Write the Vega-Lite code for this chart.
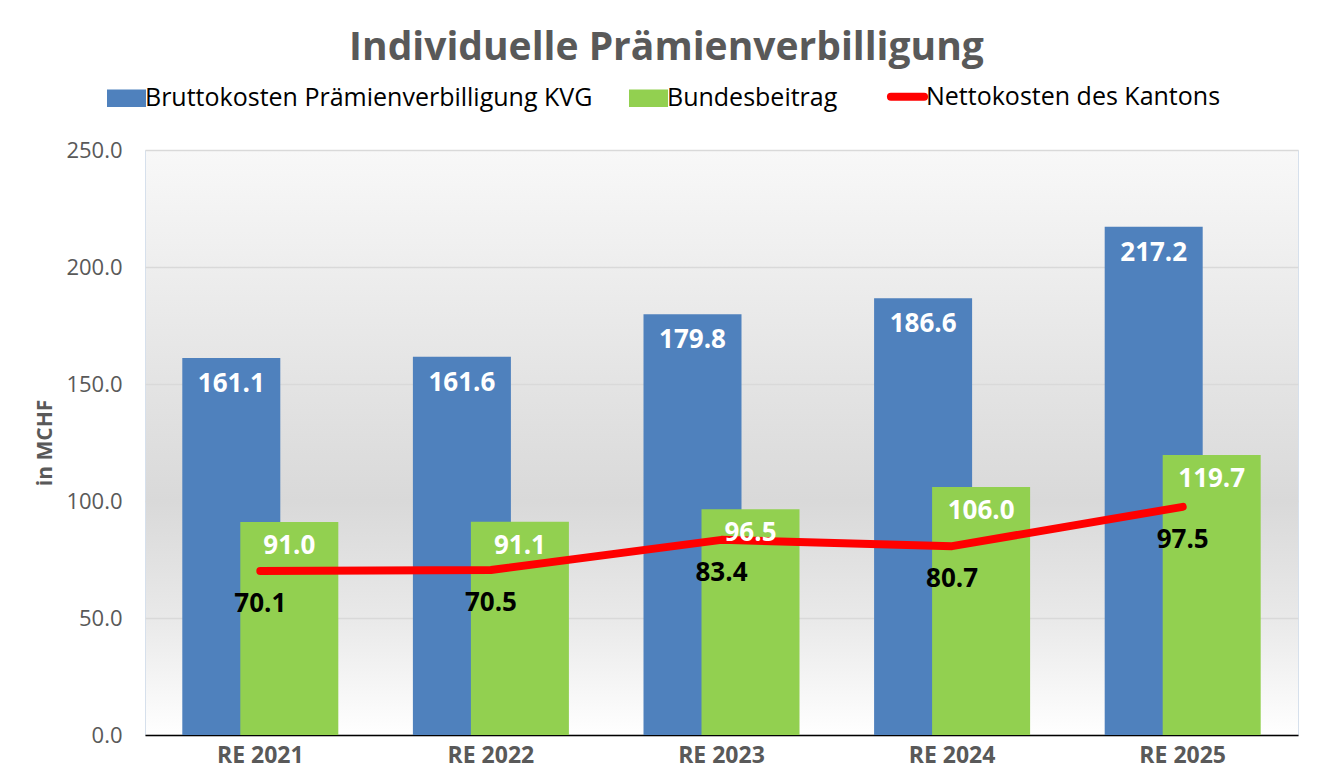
{
  "$schema": "https://vega.github.io/schema/vega-lite/v6.json",
  "width": 1323,
  "height": 778,
  "autosize": {"type": "fit", "contains": "padding"},
  "padding": {"left": 34, "right": 25, "top": 29, "bottom": 11},
  "background": "#ffffff",
  "title": {
    "text": "Individuelle Prämienverbilligung",
    "font": "Open Sans",
    "fontSize": 39,
    "fontWeight": "bold",
    "color": "#595959",
    "anchor": "middle",
    "frame": "bounds",
    "offset": 71
  },
  "config": {
    "font": "Open Sans",
    "view": {
      "stroke": "#d6e0ec",
      "strokeWidth": 1,
      "fill": {
        "gradient": "linear",
        "x1": 0, "y1": 0, "x2": 0, "y2": 1,
        "stops": [
          {"offset": 0, "color": "#f8f8f8"},
          {"offset": 0.35, "color": "#e6e6e6"},
          {"offset": 0.6, "color": "#d9d9d9"},
          {"offset": 0.8, "color": "#e9e9e9"},
          {"offset": 1, "color": "#ffffff"}
        ]
      }
    }
  },
  "data": {
    "values": [
      {"year": "RE 2021", "series": "Bruttokosten Prämienverbilligung KVG", "value": 161.1},
      {"year": "RE 2022", "series": "Bruttokosten Prämienverbilligung KVG", "value": 161.6},
      {"year": "RE 2023", "series": "Bruttokosten Prämienverbilligung KVG", "value": 179.8},
      {"year": "RE 2024", "series": "Bruttokosten Prämienverbilligung KVG", "value": 186.6},
      {"year": "RE 2025", "series": "Bruttokosten Prämienverbilligung KVG", "value": 217.2},
      {"year": "RE 2021", "series": "Bundesbeitrag", "value": 91.0},
      {"year": "RE 2022", "series": "Bundesbeitrag", "value": 91.1},
      {"year": "RE 2023", "series": "Bundesbeitrag", "value": 96.5},
      {"year": "RE 2024", "series": "Bundesbeitrag", "value": 106.0},
      {"year": "RE 2025", "series": "Bundesbeitrag", "value": 119.7},
      {"year": "RE 2021", "series": "Nettokosten des Kantons", "value": 70.1},
      {"year": "RE 2022", "series": "Nettokosten des Kantons", "value": 70.5},
      {"year": "RE 2023", "series": "Nettokosten des Kantons", "value": 83.4},
      {"year": "RE 2024", "series": "Nettokosten des Kantons", "value": 80.7},
      {"year": "RE 2025", "series": "Nettokosten des Kantons", "value": 97.5}
    ]
  },
  "encoding": {
    "x": {
      "field": "year",
      "type": "nominal",
      "scale": {"paddingInner": 0, "paddingOuter": 0},
      "axis": {
        "title": null,
        "labelAngle": 0,
        "labelFont": "Open Sans",
        "labelFontSize": 23,
        "labelFontWeight": "bold",
        "labelColor": "#595959",
        "labelPadding": 9,
        "ticks": false,
        "domainColor": "#000000",
        "domainWidth": 1.5,
        "grid": false
      }
    },
    "y": {
      "field": "value",
      "type": "quantitative",
      "scale": {"domain": [0, 250], "nice": false},
      "axis": {
        "title": "in MCHF",
        "titleFont": "Open Sans",
        "titleFontSize": 21,
        "titleFontWeight": "bold",
        "titleColor": "#595959",
        "titlePadding": 10,
        "values": [0, 50, 100, 150, 200, 250],
        "format": ".1f",
        "labelFont": "Open Sans",
        "labelFontSize": 22,
        "labelColor": "#595959",
        "labelPadding": 23,
        "ticks": false,
        "domain": false,
        "gridColor": "#d9d9d9",
        "gridWidth": 1.5
      }
    }
  },
  "layer": [
    {
      "transform": [{"filter": "datum.series === 'Bruttokosten Prämienverbilligung KVG'"}],
      "mark": {"type": "bar", "width": {"band": 0.425}, "xOffset": -29},
      "encoding": {
        "color": {
          "field": "series",
          "type": "nominal",
          "scale": {
            "domain": ["Bruttokosten Prämienverbilligung KVG", "Bundesbeitrag", "Nettokosten des Kantons"],
            "range": ["#4f81bd", "#92d050", "#ff0000"]
          },
          "legend": {
            "title": null,
            "orient": "none",
            "legendX": -31,
            "legendY": -66,
            "direction": "horizontal",
            "labelFont": "Open Sans",
            "labelFontSize": 25,
            "labelColor": "#000000",
            "labelOffset": 6,
            "columnPadding": 36,
            "symbolSize": 1521,
            "labelLimit": 700,
            "encode": {
              "symbols": {
                "update": {
                  "shape": {"signal": "datum.value === 'Nettokosten des Kantons' ? 'M-0.85,0H0.85' : 'M-1,-0.45H1V0.45H-1Z'"},
                  "fill": {"signal": "datum.value === 'Nettokosten des Kantons' ? 'transparent' : scale('color', datum.value)"},
                  "stroke": {"signal": "scale('color', datum.value)"},
                  "strokeWidth": {"signal": "datum.value === 'Nettokosten des Kantons' ? 8 : 0"},
                  "strokeCap": {"value": "round"},
                  "opacity": {"value": 1}
                }
              }
            }
          }
        }
      }
    },
    {
      "transform": [{"filter": "datum.series === 'Bundesbeitrag'"}],
      "mark": {"type": "bar", "width": {"band": 0.425}, "xOffset": 29},
      "encoding": {"color": {"field": "series", "type": "nominal"}}
    },
    {
      "transform": [{"filter": "datum.series === 'Nettokosten des Kantons'"}],
      "mark": {"type": "line", "strokeWidth": 8, "strokeCap": "round", "strokeJoin": "round"},
      "encoding": {"color": {"field": "series", "type": "nominal"}}
    },
    {
      "transform": [{"filter": "datum.series === 'Bruttokosten Prämienverbilligung KVG'"}],
      "mark": {"type": "text", "xOffset": -29, "dy": 26, "baseline": "middle", "font": "Open Sans", "fontSize": 26, "fontWeight": "bold", "color": "#ffffff"},
      "encoding": {"text": {"field": "value", "type": "quantitative", "format": ".1f"}}
    },
    {
      "transform": [{"filter": "datum.series === 'Bundesbeitrag'"}],
      "mark": {"type": "text", "xOffset": 29, "dy": 24, "baseline": "middle", "font": "Open Sans", "fontSize": 26, "fontWeight": "bold", "color": "#ffffff"},
      "encoding": {"text": {"field": "value", "type": "quantitative", "format": ".1f"}}
    },
    {
      "transform": [{"filter": "datum.series === 'Nettokosten des Kantons'"}],
      "mark": {"type": "text", "dy": 33, "baseline": "middle", "font": "Open Sans", "fontSize": 26, "fontWeight": "bold", "color": "#000000"},
      "encoding": {"text": {"field": "value", "type": "quantitative", "format": ".1f"}}
    }
  ]
}
